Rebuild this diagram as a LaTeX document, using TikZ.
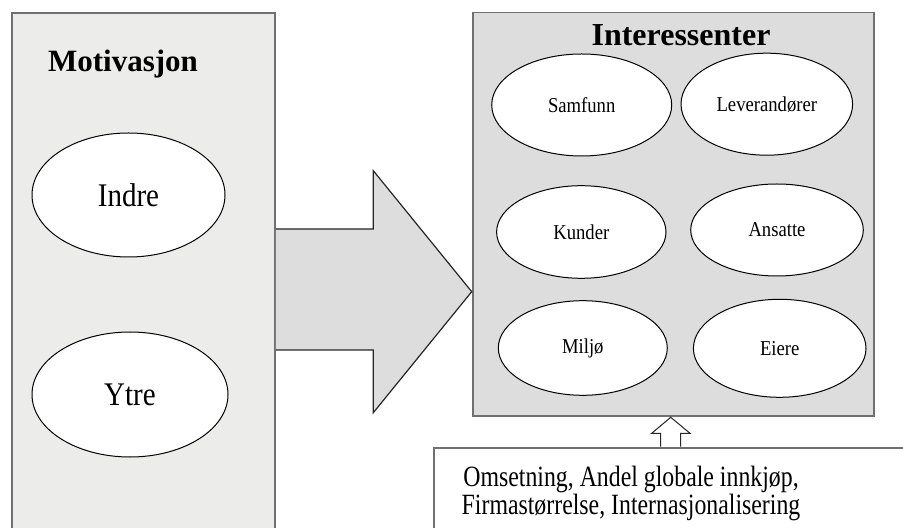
\documentclass[tikz,border=0pt]{standalone}
\usepackage{fontspec}
\setmainfont[FakeStretch=0.88]{Liberation Serif}
\newfontfamily\titlefont{Liberation Serif}
\newfontfamily\notefont[FakeStretch=0.81]{Liberation Serif}
\usetikzlibrary{shapes.geometric}
\usetikzlibrary{calc}
\definecolor{panelgray}{HTML}{ECECEB}
\definecolor{boxgray}{HTML}{DCDDDC}
\definecolor{edgegray}{HTML}{707070}
\tikzset{
	panel/.style={draw=edgegray, line width=0.9pt, rectangle, inner sep=0pt, anchor=north west},
	blob/.style={draw=black, line width=0.5pt, fill=white, ellipse, inner sep=0pt},
	blockarrow/.style={draw=black!85, line width=0.6pt, line join=miter}
}
\begin{document}
\begin{tikzpicture}[x=0.5pt,y=-0.5pt]
			\clip (0,0) rectangle (903,528);
			\fill[white] (0,0) rectangle (903,528);
			% left panel
			\node[panel, fill=panelgray, minimum width=131.5pt, minimum height=290pt] (motiv) at (11,12) {};
			\node[font=\titlefont\fontsize{15.5}{18}\selectfont\bfseries] (motivtitle) at (123,64) {Motivasjon};
			\node[blob, minimum width=96.5pt, minimum height=62pt, font=\fontsize{16.5}{19}\selectfont] (indre) at (128.5,195) {Indre};
			\node[blob, minimum width=98pt, minimum height=62.5pt, font=\fontsize{16.5}{19}\selectfont] (ytre) at (130,394.5) {Ytre};
			% right panel
			\node[panel, fill=boxgray, minimum width=200.8pt, minimum height=201.7pt] (inter) at (471.7,11.7) {};
			\node[font=\titlefont\fontsize{16}{18}\selectfont\bfseries] (intertitle) at (681,35) {Interessenter};
			\node[blob, minimum width=90pt, minimum height=51pt, font=\fontsize{10.6}{13}\selectfont] (samfunn) at (581.7,105) {Samfunn};
			\node[blob, minimum width=85.8pt, minimum height=51pt, font=\fontsize{10.6}{13}\selectfont] (lev) at (766.8,104.2) {Leverandører};
			\node[blob, minimum width=84.7pt, minimum height=46.3pt, font=\fontsize{10.6}{13}\selectfont] (kunder) at (581.3,232) {Kunder};
			\node[blob, minimum width=86.3pt, minimum height=46pt, font=\fontsize{10.6}{13}\selectfont] (ansatte) at (777,230) {Ansatte};
			\node[blob, minimum width=84.5pt, minimum height=47.3pt, font=\fontsize{10.6}{13}\selectfont] (miljo) at (582.8,348) {Miljø};
			\node[blob, minimum width=86.3pt, minimum height=49pt, font=\fontsize{10.6}{13}\selectfont] (eiere) at (779.7,348.3) {Eiere};
			% bottom box
			\node[panel, draw=edgegray, fill=white, minimum width=250pt, minimum height=60pt] (faktor) at (432.7,446.7) {};
			\node[font=\notefont\fontsize{14.7}{13.6}\selectfont, align=center, anchor=base] (faktortext) at (631,514) {Omsetning, Andel globale innkjøp,\\Firmastørrelse, Internasjonalisering};
			% big arrow
			\coordinate (tail) at (motiv.north east |- 0,290);
			\coordinate (tip) at (inter.north west |- 0,291.7);
			\draw[blockarrow, fill=boxgray] ($(tail)+(0,-61)$) -- (373.3,229) -- (373.3,170.7) -- (tip)
				-- (373.3,412.7) -- (373.3,350) -- ($(tail)+(0,60)$);
			% small arrow
			\draw[blockarrow, fill=white, line width=0.5pt] (faktor.north -| 660.7,0) -- (660.7,433.3) -- (651.7,433.3) -- (670.7,417.3)
				-- (690,433.3) -- (680.7,433.3) -- (faktor.north -| 680.7,0);
\end{tikzpicture}
\end{document}
